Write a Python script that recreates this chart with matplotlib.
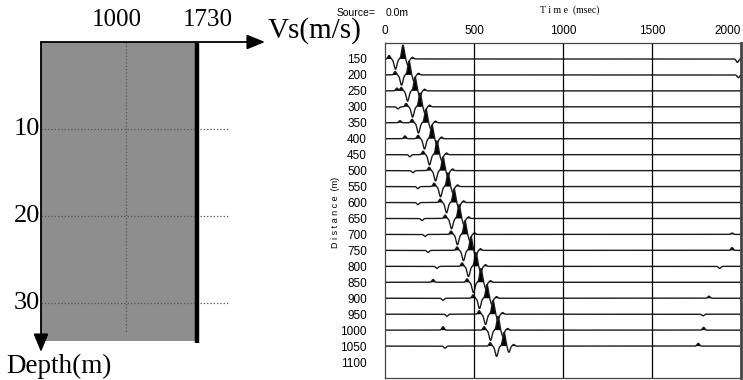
import numpy as np
import matplotlib
matplotlib.use('Agg')
import matplotlib.pyplot as plt

# left: Vs profile
vs_ticks = [1000, 1730]
depth_ticks = [10, 20, 30]
layer_vs = 1730
layer_bottom = 34.3

# right: synthetic seismogram
distances = [150, 200, 250, 300, 350, 400, 450, 500, 550, 600,
             650, 700, 750, 800, 850, 900, 950, 1000, 1050]
dist_labels = [150, 200, 250, 300, 350, 400, 450, 500, 550, 600,
               650, 700, 750, 800, 850, 900, 950, 1000, 1050, 1100]
time_ticks = [0, 500, 1000, 1500, 2000]
main_arrival = [101, 135, 169, 197, 230, 264, 292, 326, 354, 388,
                416, 449, 483, 511, 539, 573, 607, 635, 669]
early_arrival = [None, None, 67, 73, 84, 112, 140, 157, 185, 185,
                 208, 225, 242, 292, 270, 326, 348, 326, 337]
early_amp = [0, 0, 0.2, -0.15, 0.15, 0.2, -0.15, -0.15, -0.15, -0.15,
             -0.15, -0.15, -0.15, -0.15, 0.2, -0.15, -0.15, 0.25, -0.15]
late_arrival = [1980, 1985, None, None, None, None, None, None, None, None,
                None, 1950, 1950, 1880, None, 1820, 1787, 1790, 1760]
late_amp = [-0.25, -0.2, 0, 0, 0, 0, 0, 0, 0, 0,
            0, 0.1, 0.2, -0.15, 0, 0.15, -0.12, 0.2, 0.2]

serif = ['Liberation Serif', 'DejaVu Serif']
narrow = ['Liberation Sans Narrow', 'Liberation Sans', 'DejaVu Sans']

fig = plt.figure(figsize=(7.43, 3.80), dpi=100)

ax1 = fig.add_axes([41 / 743, 1 - 352 / 380, 224 / 743, 310 / 380])
ax1.set_xlim(126, 2429)
ax1.set_ylim(35.6, 0)
ax1.axis('off')
ax1.fill_between([126, layer_vs], 0, layer_bottom, color='#8e8e8e', lw=0)
for d in depth_ticks:
    ax1.plot([126, 2059], [d, d], ls=':', color='#555555', lw=0.9)
    ax1.text(118, d, str(d), ha='right', va='center', fontsize=19, family=serif)
ax1.plot([1000, 1000], [0, 33.3], ls=':', color='#555555', lw=0.9)
ax1.plot([layer_vs, layer_vs], [0, 34.6], color='black', lw=3.2, solid_capstyle='butt')
ax1.annotate('', xy=(2429, 0), xytext=(126, 0),
             arrowprops=dict(arrowstyle='-|>,head_length=1.1,head_width=0.45', color='black', lw=1.3,
                             shrinkA=0, shrinkB=0))
ax1.annotate('', xy=(126, 35.6), xytext=(126, 0),
             arrowprops=dict(arrowstyle='-|>,head_length=1.1,head_width=0.45', color='black', lw=1.3,
                             shrinkA=0, shrinkB=0))
for v, xpos in zip(vs_ticks, [910, 1845]):
    ax1.text(xpos, -1.3, str(v), ha='center', va='bottom', fontsize=18, family=serif)
fig.text(268 / 743, 1 - 31 / 380, 'Vs(m/s)', ha='left', va='center', fontsize=21, family=serif)
fig.text(6 / 743, 1 - 366 / 380, 'Depth(m)', ha='left', va='center', fontsize=19.5, family=serif)

# seismogram
ax2 = fig.add_axes([385 / 743, 1 - 378 / 380, 356 / 743, 335 / 380])
t = np.linspace(0, 2000, 4001)


def wavelet(tau):
    return (1.0 * np.exp(-(tau / 10) ** 2) - 0.75 * np.exp(-((tau + 42) / 11) ** 2)
            - 0.45 * np.exp(-((tau - 27) / 9) ** 2) + 0.25 * np.exp(-((tau + 78) / 9) ** 2)
            + 0.12 * np.exp(-((tau - 54) / 8) ** 2))


def blip(tau):
    return np.exp(-(tau / 9) ** 2)


amp = 43
for i, d in enumerate(distances):
    w = wavelet(t - main_arrival[i])
    if early_arrival[i] is not None:
        w = w + early_amp[i] * blip(t - early_arrival[i])
    if late_arrival[i] is not None:
        w = w + late_amp[i] * blip(t - late_arrival[i])
    y = d - amp * w
    ax2.fill_between(t, d, y, where=w > 0, interpolate=True, color='black', lw=0)
    ax2.plot(t, y, color='#1a1a1a', lw=1.0)

for x in time_ticks[1:-1]:
    ax2.axvline(x, color='black', lw=0.9)
ax2.set_xlim(0, 2000)
ax2.set_ylim(1150, 100)
ax2.xaxis.tick_top()
ax2.set_xticks(time_ticks)
ax2.set_yticks(dist_labels)
ax2.tick_params(axis='x', length=0, pad=4, labelsize=8.5)
ax2.tick_params(axis='y', length=0, pad=13, labelsize=8.5)
for lab in ax2.get_xticklabels() + ax2.get_yticklabels():
    lab.set_family(narrow)
ax2.get_xticklabels()[-1].set_horizontalalignment('right')
for s in ax2.spines.values():
    s.set_color('#444444')
    s.set_linewidth(0.9)
ax2.spines['right'].set_linewidth(2.0)

fig.text(336 / 743, 1 - 212 / 380, 'D i s t a n c e  (m)', rotation=90, ha='center', va='center',
         fontsize=6.5, family=narrow)
fig.text(570 / 743, 1 - 10 / 380, 'T i m e  (msec)', ha='center', va='center', fontsize=7, family=serif)
fig.text(337 / 743, 1 - 13 / 380, 'Source=', ha='left', va='center', fontsize=7.5, family=narrow)
fig.text(386 / 743, 1 - 13 / 380, '0.0m', ha='left', va='center', fontsize=7.5, family=narrow)

fig.savefig('out.png', dpi=100)
